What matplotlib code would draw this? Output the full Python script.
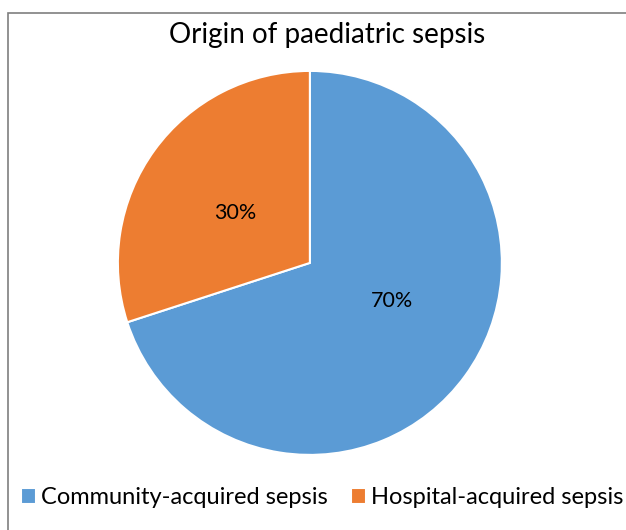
import matplotlib.pyplot as plt
from matplotlib.patches import Rectangle

labels = ['Community-acquired sepsis', 'Hospital-acquired sepsis']
values = [70, 30]
colors = ['#5B9BD5', '#ED7D31']
title = 'Origin of paediatric sepsis'

plt.rcParams['font.family'] = ['Lato', 'DejaVu Sans']

fig = plt.figure(figsize=(6.26, 5.30), dpi=100)

# outer chart frame (cut off on the right and bottom in the original)
fig.patches.append(Rectangle((8/626, -0.05), 1.0, 1 - 13/530 + 0.05, transform=fig.transFigure,
                             fill=False, edgecolor='#7f7f7f', linewidth=1.2))

ax = fig.add_axes([0.495 - 0.3067, 0.504 - 0.3623, 0.6134, 0.7245])
wedges, texts, autotexts = ax.pie(values, colors=colors, startangle=90, counterclock=False,
                                  autopct='%d%%', pctdistance=0.47, radius=1,
                                  wedgeprops=dict(edgecolor='white', linewidth=1.5),
                                  textprops=dict(fontsize=15.5, color='black'))
# label spots as placed in the original
autotexts[0].set_position((0.43, -0.2))
autotexts[1].set_position((-0.39, 0.26))
ax.set_xlim(-1, 1)
ax.set_ylim(-1, 1)
ax.set_aspect('equal')

fig.text(327/626, 1 - 35/530, title, ha='center', va='center', fontsize=20)

fig.legend(wedges, labels, loc='center', bbox_to_anchor=(322/626, 1 - 498/530), ncol=2,
           frameon=False, fontsize=17, handlelength=0.65, handleheight=0.65,
           handletextpad=0.2, columnspacing=1.0)

fig.savefig('out.png', dpi=100)
